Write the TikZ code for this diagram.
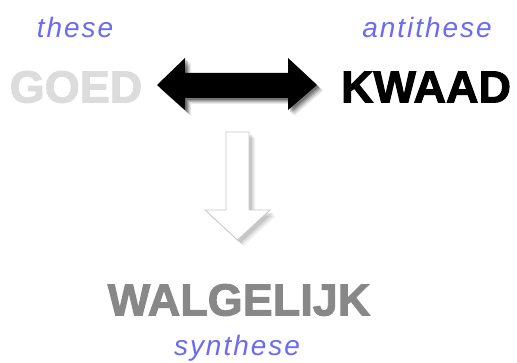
\documentclass[tikz,border=0pt]{standalone}
\usepackage{fontspec}
\setmainfont{Liberation Sans}
\newfontfamily\lblfont[LetterSpace=7]{Liberation Sans}
\newfontfamily\heavyfont[BoldFeatures={FakeBold=2.2}]{Liberation Sans}
\usetikzlibrary{shadows}
\definecolor{lblblue}{HTML}{6A6AF2}
\definecolor{goedgray}{HTML}{DCDCDC}
\definecolor{walgray}{HTML}{888888}
\tikzset{
  lbl/.style={font=\lblfont\fontsize{28}{30}\selectfont\itshape, text=lblblue, inner sep=0pt},
  word/.style={font=\heavyfont\fontsize{45}{50}\selectfont\bfseries, inner sep=0pt},
}
\begin{document}
\begin{tikzpicture}[x=1pt,y=1pt]
\useasboundingbox[fill=white] (0,0) rectangle (517,363);
\node[lbl] (these) at (75,335) {these};
\node[lbl] (anti) at (427,335) {antithese};
\node[word, text=goedgray] (goed) at (76,276) {GOED};
\node[word, text=black] (kwaad) at (426,276) {KWAAD};
\node[word, text=walgray] (walg) at (239,63) {WALGELIJK};
\node[lbl] (syn) at (237,15) {synthese};
% shadow of double arrow
\foreach \d/\o in {6/0.08,5/0.1,4/0.13,3/0.17,2/0.22} {
  \fill[black, opacity=\o, shift={(\d,-\d)}]
    (157,278) -- (185,305) -- (185,290) -- (288,290) -- (288,305) -- (317,278)
    -- (288,253) -- (288,265) -- (185,265) -- (185,253) -- cycle;
}
\fill[black] (157,278) -- (185,305) -- (185,290) -- (288,290) -- (288,305) -- (317,278)
    -- (288,253) -- (288,265) -- (185,265) -- (185,253) -- cycle;
% shadow of down arrow
\foreach \d/\o in {6/0.06,4.5/0.08,3/0.1} {
  \fill[black, opacity=\o, shift={(\d,-\d)}]
    (226,231) -- (249,231) -- (249,153) -- (270,153) -- (237.5,123) -- (205,153) -- (226,153) -- cycle;
}
\draw[fill=white, draw=black!22, line width=0.8pt]
    (226,231) -- (249,231) -- (249,153) -- (270,153) -- (237.5,123) -- (205,153) -- (226,153) -- cycle;
\end{tikzpicture}
\end{document}
